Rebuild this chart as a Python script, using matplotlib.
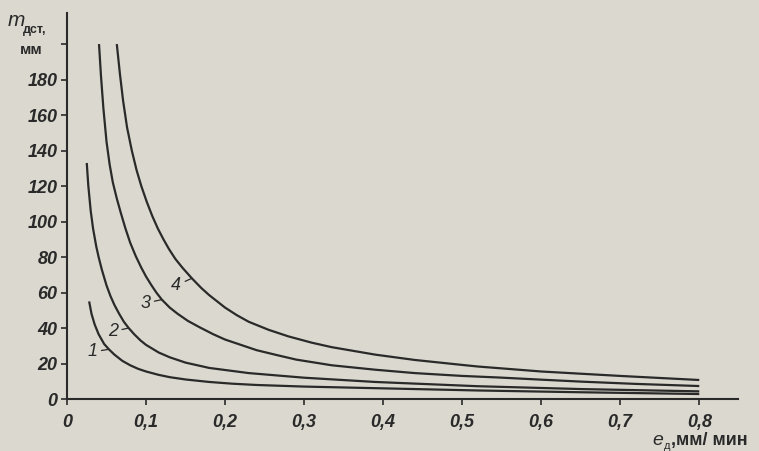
import matplotlib
matplotlib.use("Agg")
import matplotlib.pyplot as plt

# Кривые 1-4
x1 = [0.028, 0.031, 0.035, 0.04, 0.047, 0.053, 0.06, 0.07, 0.08, 0.09, 0.1, 0.116, 0.13, 0.15, 0.18, 0.21, 0.24, 0.3, 0.39, 0.52, 0.65, 0.8]
y1 = [55, 48, 42, 36.5, 31, 28, 25, 21.5, 19, 17, 15.5, 13.6, 12.3, 11, 9.6, 8.6, 7.9, 7, 6.1, 4.8, 3.8, 2.8]

x2 = [0.025, 0.027, 0.03, 0.033, 0.037, 0.04, 0.044, 0.05, 0.055, 0.06, 0.066, 0.072, 0.078, 0.085, 0.093, 0.1, 0.116, 0.13, 0.15, 0.18, 0.23, 0.3, 0.39, 0.52, 0.65, 0.8]
y2 = [133, 120, 106, 96, 86, 80, 73, 64, 58, 53, 48, 43.5, 40, 36.5, 33, 30.5, 26.2, 23.5, 20.5, 17.5, 14.6, 12, 9.6, 7.2, 5.6, 4.3]

x3 = [0.0405, 0.043, 0.046, 0.05, 0.054, 0.058, 0.063, 0.068, 0.074, 0.08, 0.087, 0.094, 0.1, 0.107, 0.113, 0.12, 0.13, 0.14, 0.153, 0.167, 0.185, 0.2, 0.22, 0.24, 0.265, 0.29, 0.335, 0.39, 0.44, 0.5, 0.547, 0.6, 0.65, 0.72, 0.8]
y3 = [200, 182, 164, 145, 132, 122, 113, 105, 96, 88, 80.5, 74, 69, 64, 60, 56, 51.5, 48, 44, 40.6, 36.5, 33.5, 30.5, 27.5, 24.8, 22.2, 19, 16.5, 14.6, 13, 12.1, 10.9, 9.8, 8.5, 7.3]

x4 = [0.063, 0.067, 0.071, 0.076, 0.082, 0.088, 0.094, 0.101, 0.108, 0.115, 0.122, 0.129, 0.137, 0.146, 0.158, 0.17, 0.18, 0.2, 0.215, 0.23, 0.255, 0.28, 0.31, 0.335, 0.39, 0.44, 0.5, 0.52, 0.6, 0.7, 0.8]
y4 = [200, 183, 168, 153, 140, 129, 120, 111, 103, 96, 90, 84.5, 79, 74, 68, 62.5, 58.5, 51.5, 47.2, 43.5, 39, 35.3, 31.7, 29.2, 25, 22, 19.2, 18.3, 15.5, 13, 10.7]

curves = [(x1, y1), (x2, y2), (x3, y3), (x4, y4)]
curve_labels = ["1", "2", "3", "4"]
# (позиция подписи, точка на кривой)
label_text_pos = [(0.032, 26.5), (0.058, 38.0), (0.099, 54.0), (0.138, 64.0)]
label_curve_pos = [(0.053, 28.0), (0.078, 40.0), (0.12, 56.0), (0.158, 68.0)]

xticks = [0, 0.1, 0.2, 0.3, 0.4, 0.5, 0.6, 0.7, 0.8]
xtick_labels = ["0", "0,1", "0,2", "0,3", "0,4", "0,5", "0,6", "0,7", "0,8"]
yticks = [0, 20, 40, 60, 80, 100, 120, 140, 160, 180, 200]
ytick_labels = ["0", "20", "40", "60", "80", "100", "120", "140", "160", "180", ""]

paper = "#dbd9cf"
ink = "#2a2a2a"
font = "Liberation Sans"

fig = plt.figure(figsize=(7.59, 4.51), dpi=100, facecolor=paper)
ax = fig.add_axes([67 / 759, 1 - 399 / 451, (738 - 67) / 759, (399 - 13) / 451])
ax.set_facecolor(paper)

for xs, ys in curves:
    ax.plot(xs, ys, color=ink, lw=1.6, solid_capstyle="butt")

for lab, tpos, cpos in zip(curve_labels, label_text_pos, label_curve_pos):
    ax.annotate(lab, xy=cpos, xytext=tpos, ha="center", va="center",
                fontsize=13, style="italic", family=font, color=ink,
                arrowprops=dict(arrowstyle="-", color=ink, lw=0.9,
                                shrinkA=1, shrinkB=0))

ax.set_xlim(0, 0.849)
ax.set_ylim(0, 217.5)

ax.spines["top"].set_visible(False)
ax.spines["right"].set_visible(False)
for s in ["left", "bottom"]:
    ax.spines[s].set_linewidth(1.5)
    ax.spines[s].set_color(ink)

ax.set_xticks(xticks)
ax.set_xticklabels(xtick_labels)
ax.set_yticks(yticks)
ax.set_yticklabels(ytick_labels)
ax.tick_params(axis="both", direction="out", length=4, width=1.2, color=ink,
               labelcolor=ink, labelsize=13)
ax.tick_params(axis="x", pad=7)
ax.tick_params(axis="y", pad=3)
for t in ax.get_xticklabels() + ax.get_yticklabels():
    t.set_fontstyle("italic")
    t.set_fontfamily(font)
    t.set_fontweight("bold")

# подписи осей
fig.text(8 / 759, 1 - 26 / 451, "m", fontsize=15, style="italic", family=font,
         color=ink, ha="left", va="baseline")
fig.text(23 / 759, 1 - 33 / 451, "дст,", fontsize=9, weight="bold", family=font,
         color=ink, ha="left", va="baseline")
fig.text(20 / 759, 1 - 54 / 451, "мм", fontsize=11, weight="bold", family=font,
         color=ink, ha="left", va="baseline")

fig.text(652 / 759, 1 - 445 / 451, "e", fontsize=14, style="italic", family=font,
         color=ink, ha="left", va="baseline")
fig.text(664 / 759, 1 - 449 / 451, "д", fontsize=8, family=font,
         color=ink, ha="left", va="baseline")
fig.text(671 / 759, 1 - 445 / 451, ",мм/ мин", fontsize=13, weight="bold",
         family=font, color=ink, ha="left", va="baseline")

fig.savefig("out.png", dpi=100, facecolor=paper)
